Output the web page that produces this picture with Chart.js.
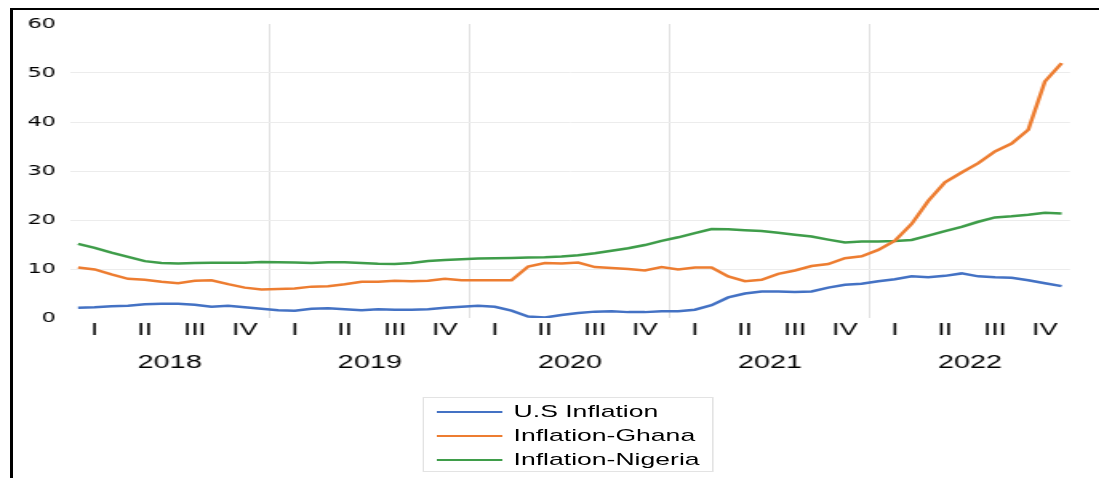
<!DOCTYPE html>
<html>
<head>
    <title>Inflation: U.S, Ghana, Nigeria</title>
    <script src="https://cdn.jsdelivr.net/npm/chart.js@4.4.0/dist/chart.umd.min.js"></script>
    <style>
        body { margin: 0; background: #fff; overflow: hidden; }
        #frame { position: absolute; left: 10px; top: 8px; width: 1200px; height: 600px;
                 border-top: 2px solid #000; border-left: 3px solid #000; }
        /* the source picture is stretched sideways, so the whole chart is drawn narrow and widened */
        #wrap { position: absolute; left: 0; top: 0; width: 687px; height: 478px;
                transform: scaleX(1.6); transform-origin: 0 0; }
        #chart { position: absolute; left: 0; top: 0; }
        #legend { position: absolute; left: 264px; top: 397px; width: 182px; height: 75px;
                  border: 1px solid #e3e3e3; box-sizing: border-box; padding-top: 2px;
                  font-family: 'Liberation Sans', Arial, sans-serif; font-size: 16.6px; color: #000; }
        .item { height: 24px; display: flex; align-items: center; }
        .swatch { width: 41.5px; height: 2px; margin-left: 7.5px; margin-right: 7px; }
    </style>
</head>
<body>
    <div id="frame"></div>
    <div id="wrap">
        <canvas id="chart" width="687" height="478"></canvas>
        <div id="legend"></div>
    </div>

    <script>
        // 数据（按月，2018年1月 - 2022年12月）
        const years = ['2018', '2019', '2020', '2021', '2022'];
        const quarters = ['I', 'II', 'III', 'IV'];

        const usInflation = [
            2.1, 2.2, 2.4, 2.5, 2.8, 2.9, 2.9, 2.7, 2.3, 2.5, 2.2, 1.9,
            1.6, 1.5, 1.9, 2.0, 1.8, 1.6, 1.8, 1.7, 1.7, 1.8, 2.1, 2.3,
            2.5, 2.3, 1.5, 0.3, 0.1, 0.6, 1.0, 1.3, 1.4, 1.2, 1.2, 1.4,
            1.4, 1.7, 2.6, 4.2, 5.0, 5.4, 5.4, 5.3, 5.4, 6.2, 6.8, 7.0,
            7.5, 7.9, 8.5, 8.3, 8.6, 9.1, 8.5, 8.3, 8.2, 7.7, 7.1, 6.5
        ];
        const ghanaInflation = [
            10.3, 9.9, 8.9, 8.0, 7.8, 7.4, 7.1, 7.6, 7.7, 6.9, 6.2, 5.8,
            5.9, 6.0, 6.4, 6.5, 6.9, 7.4, 7.4, 7.6, 7.5, 7.6, 8.0, 7.7,
            7.7, 7.7, 7.7, 10.5, 11.2, 11.1, 11.3, 10.4, 10.2, 10.0, 9.7, 10.4,
            9.9, 10.3, 10.3, 8.5, 7.5, 7.8, 9.0, 9.7, 10.6, 11.0, 12.2, 12.6,
            13.9, 15.8, 19.2, 23.9, 27.7, 29.7, 31.6, 34.0, 35.6, 38.4, 48.3, 52.0
        ];
        const nigeriaInflation = [
            15.13, 14.33, 13.34, 12.48, 11.61, 11.23, 11.14, 11.23, 11.28, 11.26, 11.28, 11.44,
            11.37, 11.31, 11.25, 11.37, 11.40, 11.22, 11.08, 11.02, 11.24, 11.61, 11.85, 11.98,
            12.13, 12.20, 12.26, 12.34, 12.40, 12.56, 12.82, 13.22, 13.71, 14.23, 14.89, 15.75,
            16.47, 17.33, 18.17, 18.12, 17.93, 17.75, 17.38, 17.01, 16.63, 15.99, 15.40, 15.63,
            15.60, 15.70, 15.92, 16.82, 17.71, 18.60, 19.64, 20.52, 20.77, 21.09, 21.47, 21.34
        ];

        const months = [];
        years.forEach(y => { for (let m = 1; m <= 12; m++) months.push(y + '-' + m); });
        const quarterLabels = [];
        years.forEach(() => quarters.forEach(q => quarterLabels.push(q)));

        const labelFont = { family: "'Liberation Sans', Arial, sans-serif" };

        const chart = new Chart(document.getElementById('chart'), {
            type: 'line',
            data: {
                labels: months,
                datasets: [
                    { label: 'U.S Inflation', data: usInflation, borderColor: '#4472C4' },
                    { label: 'Inflation-Ghana', data: ghanaInflation, borderColor: '#ED7D31' },
                    { label: 'Inflation-Nigeria', data: nigeriaInflation, borderColor: '#3F9D4A' }
                ]
            },
            options: {
                responsive: false,
                animation: false,
                layout: { padding: { left: 0, right: 18.25, top: 24, bottom: 102 } },
                elements: {
                    point: { radius: 0 },
                    line: { borderWidth: 2.5, tension: 0 }
                },
                plugins: {
                    legend: { display: false },
                    tooltip: { enabled: false }
                },
                scales: {
                    x: { type: 'category', offset: true, display: false },
                    q: {
                        type: 'category', labels: quarterLabels, position: 'bottom', offset: true, weight: 1,
                        grid: { display: false, drawTicks: false },
                        border: { display: false },
                        ticks: { autoSkip: false, maxRotation: 0, padding: 2, color: '#000',
                                 font: { ...labelFont, size: 17 } },
                        afterFit: s => { s.height = 22; }
                    },
                    yr: {
                        type: 'category', labels: years, position: 'bottom', offset: true, weight: 2,
                        grid: {
                            offset: true, drawTicks: false, lineWidth: 1,
                            // only the lines between years, not the two outer edges
                            color: c => (c.index === undefined || c.index === 0 || c.index >= years.length)
                                ? 'rgba(0,0,0,0)' : '#e2e2e2'
                        },
                        border: { display: false },
                        ticks: { autoSkip: false, maxRotation: 0, padding: 12, color: '#000',
                                 font: { ...labelFont, size: 18 } },
                        afterFit: s => { s.height = 36; }
                    },
                    y: {
                        min: 0, max: 60,
                        ticks: { stepSize: 10, padding: 8.6, color: '#000',
                                 font: { family: "'DejaVu Sans', sans-serif", size: 14 } },
                        grid: {
                            drawTicks: false,
                            color: c => (c.tick.value === 0 || c.tick.value === 60) ? 'rgba(0,0,0,0)' : '#ececec'
                        },
                        border: { display: false },
                        afterFit: s => { s.width = 43.6; }
                    }
                }
            }
        });

        // 图例（竖排）
        const legend = document.getElementById('legend');
        chart.data.datasets.forEach(ds => {
            const item = document.createElement('div');
            item.className = 'item';
            item.innerHTML = '<span class="swatch" style="background:' + ds.borderColor + '"></span>' + ds.label;
            legend.appendChild(item);
        });
    </script>
</body>
</html>
